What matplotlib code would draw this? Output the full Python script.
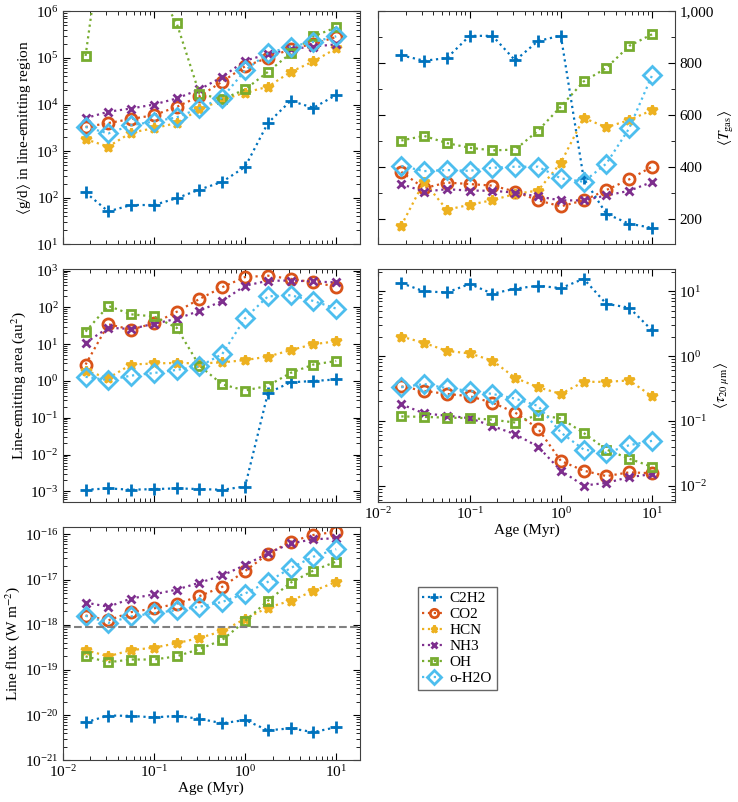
import numpy as np
import matplotlib
matplotlib.use("Agg")
import matplotlib.pyplot as plt
from matplotlib.ticker import FuncFormatter, MultipleLocator, LogLocator, NullFormatter

plt.rcParams['font.family'] = ['Liberation Serif', 'DejaVu Serif']
plt.rcParams['mathtext.fontset'] = 'stix'
plt.rcParams['font.size'] = 11

age = [0.0178, 0.0316, 0.0562, 0.1, 0.178, 0.316, 0.562, 1.0, 1.78, 3.16, 5.62, 10.0]
species = ["C2H2", "CO2", "HCN", "NH3", "OH", "o-H2O"]
colors = ["#0072BD", "#D95319", "#EDB120", "#7E2F8E", "#77AC30", "#4DBEEE"]
markers = ["+", "o", "*", "x", "s", "D"]

# gas-to-dust ratio in line-emitting region
gd = {
    "C2H2": [130, 51, 70, 70, 98, 150, 220, 460, 4000, 12000, 8500, 16000],
    "CO2": [3300, 4000, 4900, 5900, 8900, 15000, 31000, 66000, 100000, 155000, 200000, 280000],
    "HCN": [1800, 1250, 2500, 3100, 4000, 7900, 12500, 18000, 24000, 50000, 84000, 160000],
    "NH3": [5100, 7000, 8200, 10000, 13500, 21000, 39000, 87000, 120000, 155000, 175000, 195000],
    "OH": [110000, 4e8, 1e8, 4e6, 550000, 17000, 13000, 21000, 50000, 125000, 290000, 450000],
    "o-H2O": [3300, 2400, 3600, 4300, 5300, 8300, 14000, 54000, 125000, 175000, 220000, 290000],
}

# mean gas temperature
tgas = {
    "C2H2": [830, 809, 819, 905, 905, 810, 885, 906, 355, 218, 180, 164],
    "CO2": [380, 317, 339, 333, 327, 304, 270, 247, 270, 310, 351, 400],
    "HCN": [173, 342, 234, 253, 271, 295, 308, 415, 588, 552, 580, 618],
    "NH3": [333, 304, 313, 308, 307, 300, 285, 270, 270, 289, 307, 341],
    "OH": [501, 519, 491, 473, 463, 466, 539, 632, 729, 781, 866, 911],
    "o-H2O": [403, 383, 387, 384, 396, 400, 400, 355, 342, 412, 548, 752],
}

# line-emitting area (au^2)
area = {
    "C2H2": [1.1e-3, 1.2e-3, 1.1e-3, 1.15e-3, 1.2e-3, 1.15e-3, 1.1e-3, 1.35e-3, 0.47, 0.92, 1.0, 1.1],
    "CO2": [2.8, 35, 25, 37, 76, 170, 355, 670, 730, 600, 480, 370],
    "HCN": [1.9, 1.2, 2.8, 3.0, 3.1, 3.0, 3.2, 3.7, 4.6, 6.9, 10, 12],
    "NH3": [11, 28, 26, 36, 49, 81, 150, 390, 530, 540, 510, 480],
    "OH": [22, 110, 65, 57, 28, 2.6, 0.81, 0.55, 0.74, 1.66, 2.8, 3.5],
    "o-H2O": [1.3, 1.05, 1.4, 1.65, 2.0, 2.5, 5.4, 51, 200, 215, 150, 93],
}

# optical depth at 20 micron
tau = {
    "C2H2": [13.4, 10, 9.6, 13, 9.2, 11, 12.2, 11.2, 15.6, 6.4, 5.6, 2.5],
    "CO2": [0.34, 0.29, 0.26, 0.24, 0.19, 0.134, 0.076, 0.024, 0.017, 0.014, 0.016, 0.0155],
    "HCN": [2.0, 1.6, 1.2, 1.1, 0.85, 0.46, 0.33, 0.26, 0.40, 0.40, 0.42, 0.24],
    "NH3": [0.18, 0.13, 0.12, 0.11, 0.083, 0.062, 0.040, 0.017, 0.010, 0.011, 0.0135, 0.015],
    "OH": [0.117, 0.115, 0.112, 0.11, 0.104, 0.094, 0.123, 0.109, 0.065, 0.036, 0.026, 0.0195],
    "o-H2O": [0.33, 0.37, 0.32, 0.29, 0.26, 0.22, 0.17, 0.066, 0.036, 0.032, 0.042, 0.049],
}

# line flux (W m^-2)
flux = {
    "C2H2": [6.9e-21, 9.8e-21, 9.6e-21, 8.9e-21, 9.6e-21, 8.3e-21, 6.6e-21, 7.8e-21, 4.6e-21, 5.1e-21, 4.2e-21, 5.4e-21],
    "CO2": [1.6e-18, 1.25e-18, 1.9e-18, 2.3e-18, 2.9e-18, 4.3e-18, 6.9e-18, 1.54e-17, 3.7e-17, 6.9e-17, 9.7e-17, 1.15e-16],
    "HCN": [2.75e-19, 2.0e-19, 2.75e-19, 3.1e-19, 3.9e-19, 5.1e-19, 7.2e-19, 1.35e-18, 2.4e-18, 3.4e-18, 5.6e-18, 8.9e-18],
    "NH3": [3.1e-18, 2.5e-18, 3.8e-18, 4.7e-18, 6.0e-18, 8.5e-18, 1.23e-17, 2.1e-17, 3.8e-17, 6.3e-17, 7.8e-17, 8.2e-17],
    "OH": [2.0e-19, 1.48e-19, 1.7e-19, 1.7e-19, 2.0e-19, 2.9e-19, 4.6e-19, 1.2e-18, 3.4e-18, 8.5e-18, 1.58e-17, 2.5e-17],
    "o-H2O": [1.58e-18, 1.1e-18, 1.53e-18, 1.8e-18, 2.1e-18, 2.5e-18, 3.2e-18, 4.9e-18, 8.9e-18, 1.8e-17, 3.2e-17, 4.7e-17],
}
flux_limit = 8.7e-19

msize = {"+": 8, "o": 8, "*": 7, "x": 6, "s": 6, "D": 9}


def draw(ax, data):
    handles = []
    for sp, c, m in zip(species, colors, markers):
        mfc = c if m == "*" else "none"
        h, = ax.plot(age, data[sp], ls=":", lw=1.6, color=c, marker=m,
                     ms=msize[m], mfc=mfc, mec=c, mew=2.0, label=sp)
        handles.append(h)
    ax.set_xscale("log")
    ax.set_xlim(1e-2, 18)
    ax.tick_params(which="both", direction="in", top=True, right=True, pad=3)
    ax.tick_params(which="major", length=5)
    ax.tick_params(which="minor", length=3)
    for s in ax.spines.values():
        s.set_color("#404040")
    return handles


fig = plt.figure(figsize=(7.38, 8.02), dpi=100)
gs = fig.add_gridspec(3, 2, left=0.085, right=0.915, top=0.986, bottom=0.052,
                      wspace=0.064, hspace=0.106)

ax1 = fig.add_subplot(gs[0, 0])
handles = draw(ax1, gd)
ax1.set_yscale("log")
ax1.set_ylim(10, 1e6)
ax1.set_ylabel(r"$\langle$g/d$\rangle$ in line-emitting region", labelpad=2)
ax1.xaxis.set_major_formatter(NullFormatter())
ax1.xaxis.set_minor_formatter(NullFormatter())

ax2 = fig.add_subplot(gs[0, 1])
draw(ax2, tgas)
ax2.set_ylim(100, 1000)
ax2.yaxis.set_major_locator(MultipleLocator(200))
ax2.yaxis.set_minor_locator(MultipleLocator(100))
ax2.yaxis.set_major_formatter(FuncFormatter(lambda v, p: f"{int(v):,}"))
ax2.yaxis.tick_right()
ax2.yaxis.set_label_position("right")
ax2.tick_params(which="both", left=True, labelleft=False, labelright=True)
ax2.set_ylabel(r"$\langle T_{\rm gas}\rangle$", labelpad=2)
ax2.xaxis.set_major_formatter(NullFormatter())
ax2.xaxis.set_minor_formatter(NullFormatter())

ax3 = fig.add_subplot(gs[1, 0])
draw(ax3, area)
ax3.set_yscale("log")
ax3.set_ylim(5e-4, 1.1e3)
ax3.yaxis.set_major_locator(LogLocator(base=10, numticks=20))
ax3.set_ylabel(r"Line-emitting area (au$^2$)", labelpad=2)
ax3.xaxis.set_major_formatter(NullFormatter())
ax3.xaxis.set_minor_formatter(NullFormatter())

ax4 = fig.add_subplot(gs[1, 1])
draw(ax4, tau)
ax4.set_yscale("log")
ax4.set_ylim(5.5e-3, 22)
ax4.yaxis.tick_right()
ax4.yaxis.set_label_position("right")
ax4.tick_params(which="both", left=True, labelleft=False, labelright=True)
ax4.set_ylabel(r"$\langle\tau_{20\ \mu{\rm m}}\rangle$", labelpad=4)
ax4.set_xlabel("Age (Myr)", labelpad=1)

ax5 = fig.add_subplot(gs[2, 0])
draw(ax5, flux)
ax5.axhline(flux_limit, color="#808080", ls="--", lw=1.5)
ax5.set_yscale("log")
ax5.set_ylim(1e-21, 1.45e-16)
ax5.yaxis.set_major_locator(LogLocator(base=10, numticks=20))
ax5.set_ylabel(r"Line flux (W m$^{-2}$)", labelpad=2)
ax5.set_xlabel("Age (Myr)", labelpad=1)

leg = fig.legend(handles, species, loc="upper left", bbox_to_anchor=(0.566, 0.268),
                 fancybox=False, edgecolor="#404040", handlelength=1.5,
                 handletextpad=0.3, borderpad=0.3, labelspacing=0.15, fontsize=11,
                 markerscale=0.75, borderaxespad=0)
leg.get_frame().set_linewidth(1.0)

fig.savefig("out.png", dpi=100)
